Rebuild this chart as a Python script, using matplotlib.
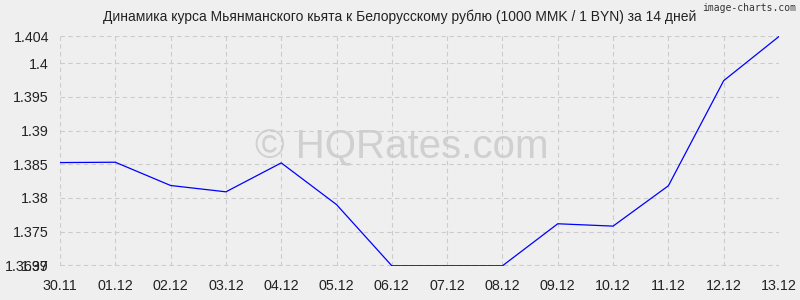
import numpy as np, matplotlib
matplotlib.use('Agg'); import matplotlib.pyplot as plt

dates = ['30.11','01.12','02.12','03.12','04.12','05.12','06.12','07.12','08.12','09.12','10.12','11.12','12.12','13.12']
rates = [1.38525, 1.3853, 1.38184, 1.3809, 1.3852, 1.3790, 1.3699, 1.3699, 1.3699, 1.37615, 1.3758, 1.3818, 1.39743, 1.4040]
yticks = [1.3699, 1.37, 1.375, 1.38, 1.385, 1.39, 1.395, 1.4, 1.404]
ylabels = ['1.3699', '1.37', '1.375', '1.38', '1.385', '1.39', '1.395', '1.4', '1.404']
title = 'Динамика курса Мьянманского кьята к Белорусскому рублю (1000 MMK / 1 BYN) за 14 дней'

plt.rcParams['font.family'] = ['Liberation Sans', 'DejaVu Sans']
bg = '#efefef'
fig = plt.figure(figsize=(8, 3), dpi=100, facecolor=bg)
ax = fig.add_axes([60/800, 1-266/300, 719/800, 230/300], facecolor=bg)

x = np.arange(len(dates))
ax.plot(x, rates, color='#0000ff', lw=0.9)
ax.set_xlim(0, len(dates)-1)
ax.set_ylim(min(rates) - 0.00003, max(rates) + 0.00007)
ax.set_xticks(x); ax.set_xticklabels(dates, fontsize=10.3)
ax.set_yticks(yticks); ax.set_yticklabels(ylabels, fontsize=10.3)
ax.tick_params(axis='x', length=0, pad=9, colors='#222222')
ax.tick_params(axis='y', length=0, pad=8, colors='#222222')
ax.grid(True, color='#cccccc', ls=(0, (4, 3)), lw=0.8)
for s in ax.spines.values():
    s.set_visible(False)

fig.text(0.5, 1-17/300, title, ha='center', va='center', fontsize=10, color='#222222')
fig.text(0.995, 1-8/300, 'image-charts.com', ha='right', va='center', fontsize=7,
         family='DejaVu Sans Mono', color='#333333')
ax.text(0.475, 0.515, '© HQRates.com', transform=ax.transAxes, ha='center', va='center',
        fontsize=29, color='#d0d0d0', zorder=0)

plt.savefig('out.png', dpi=100, facecolor=bg)
plt.close()
